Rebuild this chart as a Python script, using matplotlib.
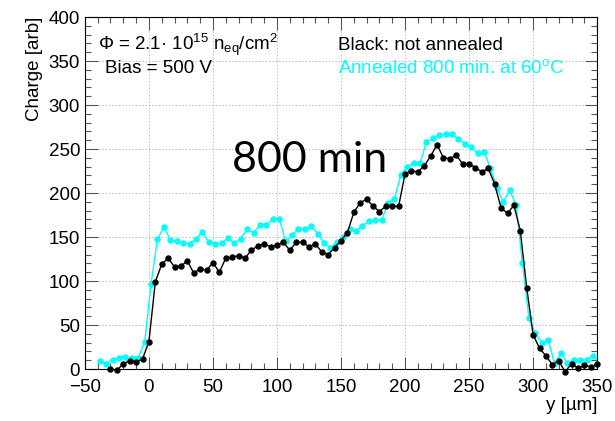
import numpy as np
import matplotlib.pyplot as plt
from matplotlib.ticker import MultipleLocator

plt.rcParams['font.family'] = ['Liberation Sans', 'DejaVu Sans']
plt.rcParams['mathtext.fontset'] = 'custom'
plt.rcParams['mathtext.rm'] = 'Liberation Sans'
plt.rcParams['mathtext.it'] = 'Liberation Sans:italic'

# Charge profile along y, 5 um steps
y_black = np.arange(-30, 351, 5)
q_black = [0, -1.5, 6, 9.5, 8, 11.4, 31, 99, 119, 126, 116, 117, 123, 109, 114,
           112, 121, 110, 126, 127, 129, 126, 135, 140, 142, 139, 141, 144, 135,
           144, 144, 139, 142, 133, 130, 138, 146, 155, 178, 189, 193, 185, 179,
           185, 185, 185, 222, 225, 224, 231, 242, 255, 240, 239, 243, 233, 233,
           229, 224, 228, 210, 183, 177, 186, 157, 92, 39, 23.5, 15, 5, 9, -3,
           6, 1, 4, 2.6, 5.3]

y_cyan = np.arange(-38.3, 352, 5)
q_cyan = [9, 6, 10, 13, 14, 12.5, 13, 31, 97, 148, 161, 147, 145, 143, 142, 148,
          156, 144, 142, 143, 149, 143, 148, 159, 155, 164, 164, 170, 171, 145,
          152, 159, 159, 162, 154, 143, 138, 144, 150, 159, 157, 163, 168, 169,
          169, 189, 193, 221, 230, 234, 234, 258, 262, 266, 267, 267, 261, 256,
          252, 245, 247, 228, 206, 190, 203, 186, 120, 58, 40.5, 30, 33, 6.5, 18,
          6.5, 10.6, 10.6, 10.6, 15, 8]

cyan = '#00ffff'

fig = plt.figure(figsize=(6.15, 4.21), dpi=100)
ax = fig.add_axes([0.138, 0.1235, 0.833, 0.836])

ax.plot(y_black, q_black, '-o', color='black', lw=1, ms=3.6, clip_on=False, zorder=3)
ax.plot(y_cyan, q_cyan, '-o', color=cyan, lw=1, ms=3.6, zorder=2)

ax.set_xlim(-50, 350)
ax.set_ylim(0, 400)
ax.xaxis.set_major_locator(MultipleLocator(50))
ax.xaxis.set_minor_locator(MultipleLocator(10))
ax.yaxis.set_major_locator(MultipleLocator(50))
ax.yaxis.set_minor_locator(MultipleLocator(10))
ax.tick_params(which='both', direction='in', top=True, right=True,
               labelsize=13.5, width=0.8, color='#555555')
ax.tick_params(which='major', length=9)
ax.tick_params(which='minor', length=4.5)
ax.tick_params(axis='x', pad=7)
ax.grid(True, which='major', ls=(0, (2, 2)), lw=0.6, color='#bbbbbb')
for s in ax.spines.values():
    s.set_linewidth(0.8)

ax.set_xlabel('y [µm]', loc='right', fontsize=13.5, labelpad=1)
ax.set_ylabel('Charge [arb]', loc='top', fontsize=13.5, labelpad=4)

ax.text(-39.5, 368, 'Φ = 2.1· 10$^{15}$ n$_{\\rm eq}$/cm$^{2}$', fontsize=13.5,
        va='center', ha='left')
ax.text(-34.5, 342, 'Bias = 500 V', fontsize=13.5, va='center', ha='left')
ax.text(148, 368, 'Black: not annealed', fontsize=13.5, va='center', ha='left')
ax.text(148, 342, 'Annealed 800 min. at 60$^{\\rm o}$C', fontsize=13.5,
        va='center', ha='left', color=cyan)
ax.text(65, 238, '800 min', fontsize=31, family='Lato', va='center', ha='left')

fig.savefig('out.png', dpi=100)
